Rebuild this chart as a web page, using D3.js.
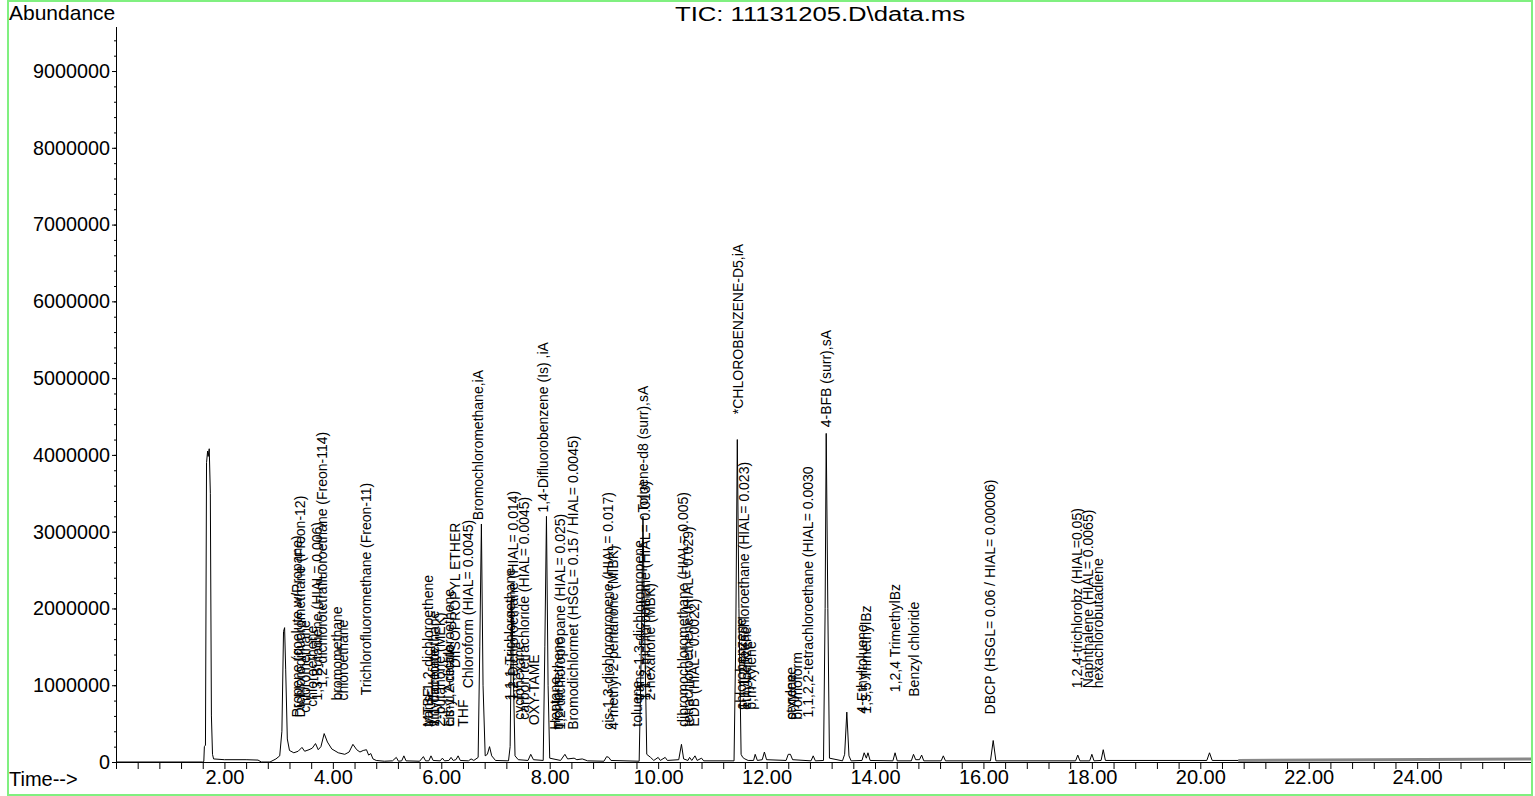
<!DOCTYPE html>
<html><head><meta charset="utf-8">
<script src="https://cdn.jsdelivr.net/npm/d3@7"></script>
<style>
body{margin:0;background:#fff}
svg{display:block}
text{font-family:"Liberation Sans",Arial,Helvetica,sans-serif;fill:#000}
</style>
</head><body>
<svg id="chart" width="1535" height="796"></svg>
<script>
const chartTitle = "TIC: 11131205.D\\data.ms";
const yTickValues = [0,1000000,2000000,3000000,4000000,5000000,6000000,7000000,8000000,9000000];
const xTickLabels = [2,4,6,8,10,12,14,16,18,20,22,24];

const traceTime = [0.00,1.60,1.62,1.63,1.65,1.67,1.69,1.70,1.72,1.74,1.76,1.78,1.80,2.00,2.40,2.62,2.68,2.84,2.95,3.02,3.06,3.09,3.11,3.13,3.16,3.20,3.28,3.36,3.43,3.48,3.56,3.62,3.68,3.73,3.78,3.84,3.90,3.98,4.10,4.22,4.30,4.37,4.44,4.50,4.56,4.62,4.66,4.70,4.74,4.80,4.95,5.10,5.17,5.21,5.27,5.31,5.35,5.60,5.67,5.71,5.77,5.81,5.85,5.98,6.02,6.06,6.14,6.18,6.22,6.27,6.31,6.35,6.50,6.55,6.60,6.68,6.71,6.74,6.77,6.81,6.85,6.89,6.93,7.00,7.24,7.27,7.30,7.33,7.36,7.42,7.60,7.65,7.70,7.88,7.91,7.94,7.97,8.00,8.20,8.28,8.33,8.45,8.50,8.60,8.70,9.00,9.05,9.09,9.13,9.65,9.69,9.72,9.75,9.79,9.86,9.92,10.00,10.04,10.13,10.17,10.38,10.43,10.47,10.55,10.58,10.62,10.68,10.72,10.80,10.84,11.40,11.43,11.46,11.49,11.53,11.56,11.60,11.66,11.76,11.79,11.83,11.92,11.96,12.00,12.36,12.40,12.44,12.48,12.82,12.86,12.90,13.05,13.08,13.10,13.13,13.16,13.40,13.44,13.48,13.52,13.56,13.76,13.80,13.84,13.87,13.91,14.33,14.37,14.41,14.67,14.71,14.75,14.82,14.86,14.90,15.22,15.26,15.30,16.13,16.18,16.23,17.70,17.74,17.78,17.96,18.00,18.04,18.17,18.21,18.25,20.12,20.17,20.22,20.70];
const traceAbund = [0,0,8000,200000,220000,3900000,4050000,3980000,4080000,3500000,600000,100000,40000,30000,30000,25000,0,0,40000,80000,400000,1700000,1750000,1200000,300000,150000,120000,140000,190000,140000,160000,180000,240000,160000,200000,370000,260000,170000,120000,100000,130000,230000,160000,130000,150000,160000,90000,110000,40000,20000,10000,15000,60000,10000,15000,80000,15000,10000,70000,15000,15000,80000,20000,15000,50000,15000,20000,60000,20000,30000,80000,20000,15000,40000,20000,60000,1500000,3100000,1000000,80000,100000,200000,80000,20000,15000,200000,2150000,1100000,80000,30000,20000,100000,30000,20000,1500000,3200000,1000000,50000,20000,100000,40000,50000,30000,40000,15000,10000,70000,60000,20000,10000,1500000,3200000,1800000,100000,60000,20000,60000,20000,60000,20000,30000,230000,40000,20000,60000,20000,80000,20000,50000,15000,15000,1500000,4200000,2000000,100000,60000,40000,20000,20000,100000,20000,30000,130000,30000,20000,100000,100000,30000,15000,80000,15000,20000,2000000,4280000,2000000,50000,15000,100000,650000,80000,15000,20000,120000,50000,120000,20000,15000,120000,15000,15000,100000,30000,30000,90000,15000,15000,80000,15000,15000,280000,15000,15000,90000,15000,15000,100000,15000,20000,160000,20000,20000,120000,20000,20000];
const noiseTime = [20.70, 26.10];
const noiseAbund = [20000, 40000];

const labelText = [
 "Propene (coelute w/Propane)","Dichlorodifluoromethane (Freon-12)","chloromethane","1,2-dichlorotetrafluoroethane (Freon-114)","chloroethene","1,3-Butadiene (HIAL= 0.006)","bromomethane","chloroethane","Trichlorofluoromethane (Freon-11)",
 "MTBE","trans-1,2-dichloroethene","vinyl acetate","1,1-dichloroethane","2-butanone (MEK)","DIISOPROPYL ETHER","Ethyl Acetate","cis-1,2-dichloroethene","Chloroform (HIAL= 0.0045)","THF","Bromochloromethane,iA",
 "1,1,1-Trichloroethane","1,2-Dichloroethane (HIAL= 0.014)","cyclohexane","carbon tetrachloride (HIAL= 0.0045)","OXY-TAME","1,4-Difluorobenzene (Is) ,iA",
 "Heptane","trichloroethene","1,2-dichloropropane (HIAL= 0.025)","Bromodichlormet (HSGL= 0.15 / HIAL= 0.0045)",
 "cis-1,3-dichloropropene (HIAL= 0.017)","4-methyl-2-pentanone (MIBK)",
 "toluene","trans-1,3-dichloropropene","Toluene-d8 (surr),sA","1,1,2-trichloroethane (HIAL= 0.013)","2-hexanone (MBK)",
 "dibromochloromethane (HIAL= 0.005)","tetrachloroethene (HIAL= 0.029)","EDB (HIAL= 0.0022)",
 "*CHLOROBENZENE-D5,iA","chlorobenzene","1,1,1,2-tetrachloroethane (HIAL= 0.023)","ethylbenzene","p,m-xylene",
 "o-xylene","styrene","bromoform","1,1,2,2-tetrachloroethane (HIAL= 0.0030","4-BFB (surr),sA",
 "4-Ethyltoluene","1,3,5 TrimethylBz","1,2,4 TrimethylBz","Benzyl chloride","DBCP (HSGL= 0.06 / HIAL= 0.00006)",
 "1,2,4-trichlorobz (HIAL=0.05)","Naphthalene (HIAL= 0.0065)","hexachlorobutadiene"];
const labelTime = [
 3.34,3.39,3.49,3.80,3.62,3.70,4.07,4.18,4.61,
 5.76,5.76,5.87,5.87,5.98,6.25,6.14,6.14,6.49,6.40,6.68,
 7.27,7.33,7.44,7.53,7.72,7.88,
 8.10,8.16,8.20,8.44,
 9.08,9.16,
 9.61,9.65,9.72,9.76,9.85,
 10.46,10.55,10.66,
 11.48,11.53,11.58,11.62,11.72,
 12.45,12.45,12.56,12.76,13.10,
 13.77,13.84,14.37,14.72,16.12,
 17.73,17.93,18.12];
const labelLevel = [
 580000,580000,640000,970000,720000,800000,800000,800000,870000,
 460000,460000,460000,460000,460000,1220000,460000,460000,960000,460000,3150000,
 800000,800000,550000,550000,480000,3250000,
 420000,420000,420000,420000,
 420000,420000,
 460000,800000,3250000,800000,800000,
 460000,460000,460000,
 4530000,680000,680000,680000,680000,
 550000,550000,550000,580000,4360000,
 630000,630000,910000,850000,620000,
 960000,960000,960000];

const svg = d3.select("#chart");
svg.append("rect").attr("width",1535).attr("height",796).attr("fill","#fff");

const x = d3.scaleLinear().domain([0, 26.1]).range([116, 1531]);
const y = d3.scaleLinear().domain([0, 9580000]).range([762, 26.5]);

// y axis
const yMinor = d3.range(0, 9580000, 200000);
const gyMinor = svg.append("g").attr("transform","translate(116,0)")
  .call(d3.axisLeft(y).tickValues(yMinor).tickSize(2).tickFormat(""));
gyMinor.select(".domain").remove();
const gy = svg.append("g").attr("transform","translate(116,0)")
  .call(d3.axisLeft(y).tickValues(yTickValues).tickSize(4).tickSizeOuter(0).tickPadding(2).tickFormat(d3.format("d")));
gy.selectAll("text").attr("font-size",20).attr("font-family",'"Liberation Sans",Arial,sans-serif')
  .attr("textLength", d => 11*String(d).length).attr("lengthAdjust","spacingAndGlyphs");

// x axis
const xMinor = d3.range(0, 65).map(i => +(i*0.4).toFixed(1));
svg.append("g").attr("transform","translate(0,762)")
  .call(d3.axisBottom(x).tickValues(xMinor).tickSize(7).tickSizeOuter(0).tickFormat(""));
const gxl = svg.append("g").attr("transform","translate(0,762)")
  .call(d3.axisBottom(x).tickValues(xTickLabels).tickSize(0).tickPadding(8).tickFormat(d3.format(".2f")));
gxl.select(".domain").remove();
gxl.selectAll("text").attr("font-size",20).attr("font-family",'"Liberation Sans",Arial,sans-serif');
svg.selectAll(".domain, .tick line").attr("stroke","#000");

// trace
const line = d3.line().x(d => x(d[0])).y(d => y(d[1]));
svg.append("path").datum(noiseTime.map((t,i)=>[t,noiseAbund[i]]))
  .attr("d", line).attr("fill","none").attr("stroke","#888").attr("stroke-width",3);
svg.append("path").datum(traceTime.map((t,i)=>[t,traceAbund[i]]))
  .attr("d", line).attr("fill","none").attr("stroke","#000").attr("stroke-width",1);

// peak labels
svg.append("g").selectAll("text").data(labelText).join("text")
  .attr("transform",(d,i)=>`translate(${x(labelTime[i])},${y(labelLevel[i])}) rotate(-90)`)
  .attr("dy","0.35em").attr("font-size",14).text(d=>d);

// texts
svg.append("text").attr("x",9).attr("y",20).attr("font-size",21).text("Abundance");
svg.append("text").attr("x",9).attr("y",786).attr("font-size",20).text("Time-->");
svg.append("text").attr("x",820).attr("y",21).attr("font-size",20).attr("text-anchor","middle")
  .attr("textLength",290).attr("lengthAdjust","spacingAndGlyphs").text(chartTitle);

// frame
svg.append("rect").attr("x",8).attr("y",1).attr("width",1524).attr("height",794)
  .attr("fill","none").attr("stroke","#80f080").attr("stroke-width",2);
</script>
</body></html>
